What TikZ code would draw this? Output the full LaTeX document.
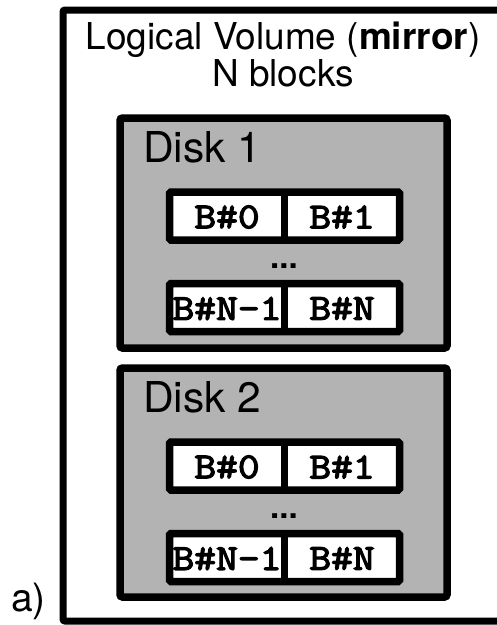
\documentclass[tikz,border=0pt]{standalone}
\usepackage{fontspec}
\setmainfont{TeX Gyre Heros}
\newfontfamily\blockfam[FakeBold=3.4,FakeStretch=1.16]{Latin Modern Mono}
\definecolor{diskgray}{RGB}{179,179,179}
\newcommand\blockfont{\fontsize{36.5}{36.5}\selectfont\blockfam}
\begin{document}
\begin{tikzpicture}[x=1pt,y=-1pt,
  volume/.style={draw, line width=7pt, rounded corners=2pt, inner sep=0pt, outer sep=0pt},
  disk/.style={draw, fill=diskgray, line width=7.5pt, rounded corners=2.5pt,
    minimum width=327pt, inner sep=0pt, outer sep=0pt},
  blockrow/.style={draw, fill=white, line width=7.5pt, rounded corners=1.5pt,
    minimum width=230pt, minimum height=48pt, inner sep=0pt, outer sep=0pt},
  divider/.style={line width=7pt},
  blocklabel/.style={inner sep=0pt, font=\blockfont},
  disklabel/.style={inner sep=0pt, anchor=base west, font=\fontsize{42.5}{42.5}\selectfont},
  titlefont/.style={inner sep=0pt, anchor=base, font=\fontsize{37}{37}\selectfont},
  ellipsis/.style={inner sep=0pt, font=\fontsize{33}{33}\selectfont\bfseries},
  tag/.style={inner sep=0pt, anchor=base west, font=\fontsize{39}{39}\selectfont}]
\useasboundingbox (0,0) rectangle (497,625);
\clip (0,0) rectangle (497,625);

% logical volume frame (its right side runs past the page edge)
\node[volume, minimum width=447pt, minimum height=611pt] (vol) at (286.5,315.5) {};
\node[titlefont] (title) at (283,49.3) {Logical Volume (\textbf{mirror})};
\node[titlefont] (titlesub) at (283,86.7) {N blocks};

% first disk
\node[disk, minimum height=230pt] (disk1) at (283.5,233) {};
\node[disklabel] (disk1label) at (143,162.3) {Disk 1};
\node[blockrow] (d1r1) at (284.5,216) {};
\draw[divider] (d1r1.north) -- (d1r1.south);
\node[blocklabel] (d1b0) at ([xshift=-57.5pt,yshift=-1pt]d1r1.center) {B\#0};
\node[blocklabel] (d1b1) at ([xshift=57.5pt,yshift=-1pt]d1r1.center) {B\#1};
\node[ellipsis] (d1dots) at (284,266) {...};
\node[blockrow] (d1r2) at (284.5,307.5) {};
\draw[divider] (d1r2.north) -- (d1r2.south);
\node[blocklabel] (d1bn1) at ([xshift=-57.5pt,yshift=-1pt]d1r2.center) {B\#N-1};
\node[blocklabel] (d1bn) at ([xshift=57.5pt,yshift=-1pt]d1r2.center) {B\#N};

% second disk
\node[disk, minimum height=229pt] (disk2) at (283.5,482.5) {};
\node[disklabel] (disk2label) at (143,412.3) {Disk 2};
\node[blockrow] (d2r1) at (284.5,466) {};
\draw[divider] (d2r1.north) -- (d2r1.south);
\node[blocklabel] (d2b0) at ([xshift=-57.5pt,yshift=-1pt]d2r1.center) {B\#0};
\node[blocklabel] (d2b1) at ([xshift=57.5pt,yshift=-1pt]d2r1.center) {B\#1};
\node[ellipsis] (d2dots) at (284,516) {...};
\node[blockrow] (d2r2) at (284.5,557.5) {};
\draw[divider] (d2r2.north) -- (d2r2.south);
\node[blocklabel] (d2bn1) at ([xshift=-57.5pt,yshift=-1pt]d2r2.center) {B\#N-1};
\node[blocklabel] (d2bn) at ([xshift=57.5pt,yshift=-1pt]d2r2.center) {B\#N};

\node[tag] (tag) at (11,611) {a)};
\end{tikzpicture}
\end{document}
